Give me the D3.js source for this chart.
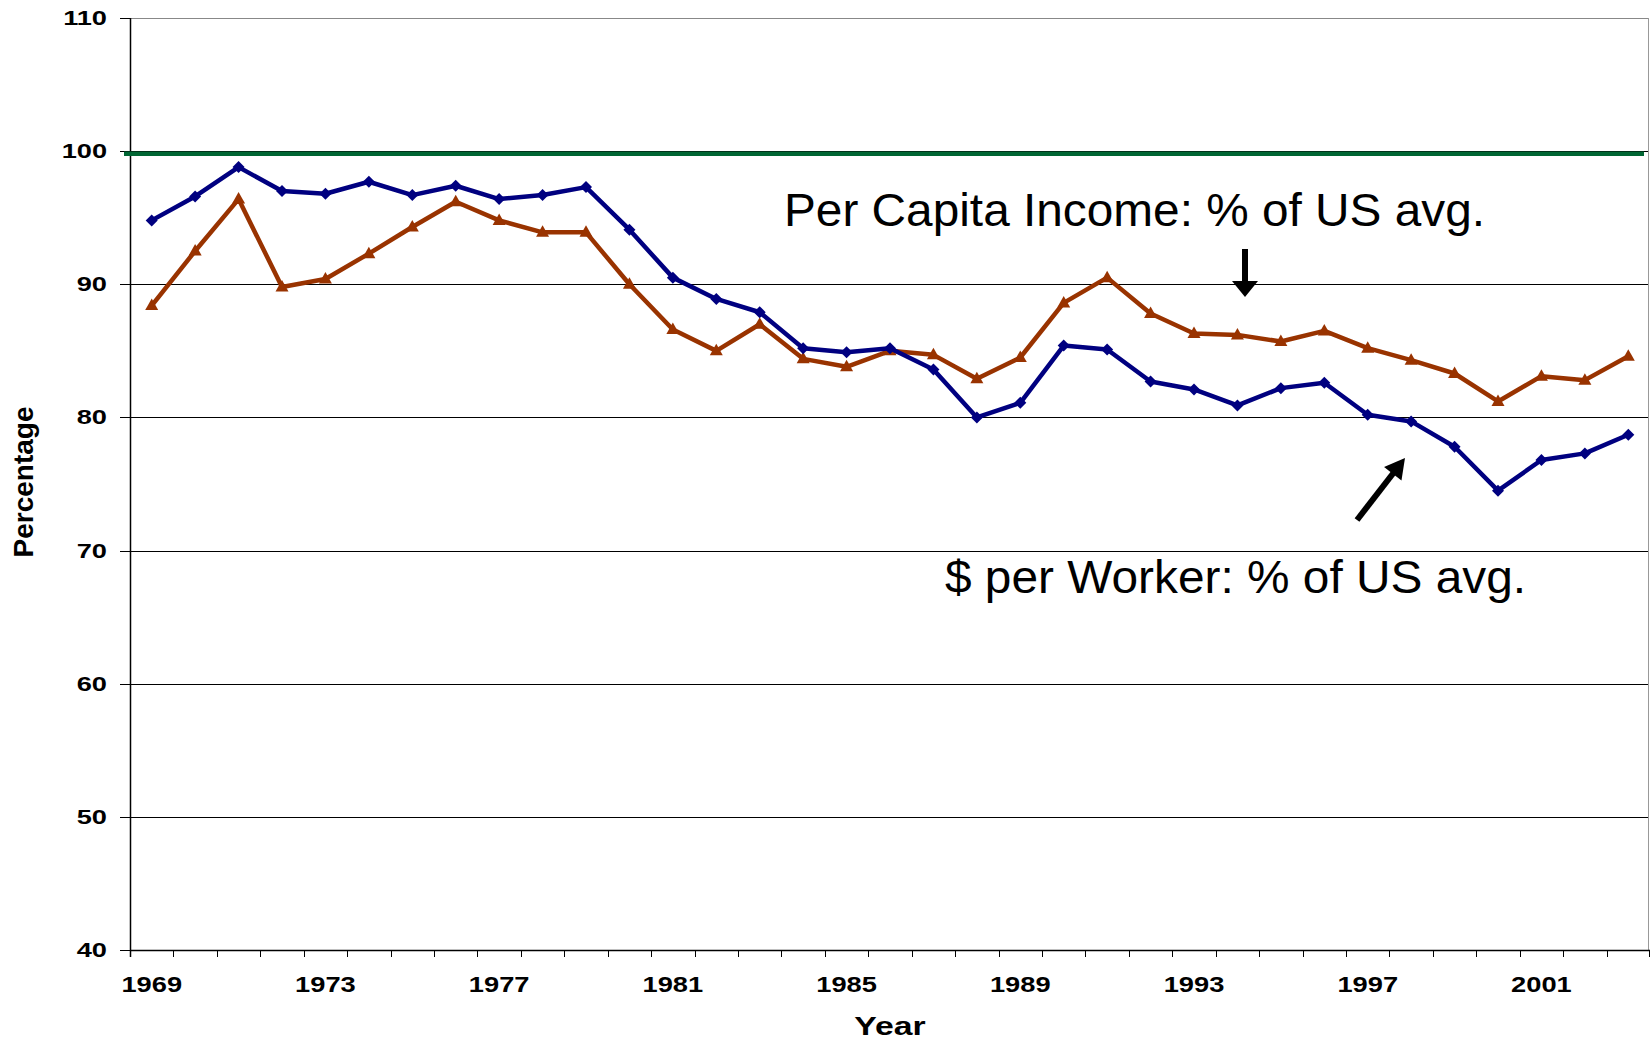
<!DOCTYPE html>
<html>
<head>
<meta charset="utf-8">
<title>Per capita income and $ per worker</title>
<script src="https://cdn.jsdelivr.net/npm/d3@7"></script>
<style>
  body { margin: 0; background: #fff; }
  text { font-family: "Liberation Sans", Arial, sans-serif; fill: #000; }
</style>
</head>
<body>
<div id="chart"></div>
<script>
// data
var years = [1969, 1970, 1971, 1972, 1973, 1974, 1975, 1976, 1977, 1978, 1979,
             1980, 1981, 1982, 1983, 1984, 1985, 1986, 1987, 1988, 1989, 1990,
             1991, 1992, 1993, 1994, 1995, 1996, 1997, 1998, 1999, 2000, 2001,
             2002, 2003];
var perWorker = [94.8, 96.6, 98.8, 97.0, 96.8, 97.7, 96.7, 97.4, 96.4, 96.7, 97.3,
                 94.1, 90.5, 88.9, 87.9, 85.2, 84.9, 85.2, 83.6, 80.0, 81.1, 85.4,
                 85.1, 82.7, 82.1, 80.9, 82.2, 82.6, 80.2, 79.7, 77.8, 74.5, 76.8,
                 77.3, 78.7];
var perCapita = [88.4, 92.5, 96.4, 89.8, 90.4, 92.3, 94.3, 96.2, 94.8, 93.9, 93.9,
                 90.0, 86.6, 85.0, 87.0, 84.4, 83.8, 85.0, 84.7, 82.9, 84.5, 88.6,
                 90.5, 87.8, 86.3, 86.2, 85.7, 86.5, 85.2, 84.3, 83.3, 81.2, 83.1,
                 82.8, 84.6];
var usAvg = 99.8;
var yTicks = [40, 50, 60, 70, 80, 90, 100, 110];
var xLabels = [1969, 1973, 1977, 1981, 1985, 1989, 1993, 1997, 2001];

var W = 1650, H = 1040;
var pLeft = 130, pRight = 1650, pTop = 18, pBottom = 950;

var svg = d3.select('#chart').append('svg')
    .attr('width', W)
    .attr('height', H);

var x = d3.scaleBand().domain(years).range([pLeft, pRight]).padding(0);
var y = d3.scaleLinear().domain([40, 110]).range([pBottom, pTop]);
var bw = x.bandwidth();
var cx = function(yr) { return x(yr) + bw / 2; };

// gridlines
svg.append('g').selectAll('line')
    .data(yTicks)
    .join('line')
    .attr('x1', pLeft).attr('x2', pRight - 1)
    .attr('y1', function(d) { return Math.round(y(d)) + 0.5; })
    .attr('y2', function(d) { return Math.round(y(d)) + 0.5; })
    .attr('stroke', function(d) { return d === 110 ? '#888' : '#000'; })
    .attr('stroke-width', 1);

// right border of plot area
svg.append('line')
    .attr('x1', pRight - 1.5).attr('x2', pRight - 1.5)
    .attr('y1', y(110)).attr('y2', pBottom)
    .attr('stroke', '#999');

// y axis
var yAxis = svg.append('g');
yAxis.append('line')
    .attr('x1', pLeft + 0.5).attr('x2', pLeft + 0.5)
    .attr('y1', y(110)).attr('y2', pBottom + 7)
    .attr('stroke', '#000').attr('stroke-width', 1.5);
yAxis.selectAll('.ytick')
    .data(yTicks)
    .join('line')
    .attr('class', 'ytick')
    .attr('x1', pLeft - 10).attr('x2', pLeft)
    .attr('y1', function(d) { return Math.round(y(d)) + 0.5; })
    .attr('y2', function(d) { return Math.round(y(d)) + 0.5; })
    .attr('stroke', '#000');
yAxis.selectAll('text')
    .data(yTicks)
    .join('text')
    .attr('transform', function(d) { return 'translate(107,' + (y(d) + 7) + ') scale(1.36,1)'; })
    .attr('text-anchor', 'end')
    .attr('font-size', 20)
    .attr('font-weight', 'bold')
    .text(function(d) { return d; });

// x axis
var xAxis = svg.append('g');
xAxis.append('line')
    .attr('x1', pLeft).attr('x2', pRight)
    .attr('y1', pBottom + 0.5).attr('y2', pBottom + 0.5)
    .attr('stroke', '#000').attr('stroke-width', 1.5);
var bounds = years.map(function(d) { return x(d); }).concat([pRight - 1]);
xAxis.selectAll('.xtick')
    .data(bounds)
    .join('line')
    .attr('class', 'xtick')
    .attr('x1', function(d) { return Math.round(d) + 0.5; })
    .attr('x2', function(d) { return Math.round(d) + 0.5; })
    .attr('y1', pBottom).attr('y2', pBottom + 7)
    .attr('stroke', '#000');
xAxis.selectAll('text')
    .data(xLabels)
    .join('text')
    .attr('transform', function(d) { return 'translate(' + cx(d) + ',991.5) scale(1.24,1)'; })
    .attr('text-anchor', 'middle')
    .attr('font-size', 22)
    .attr('font-weight', 'bold')
    .text(function(d) { return d; });

// axis titles
svg.append('text')
    .attr('transform', 'translate(' + ((pLeft + pRight) / 2) + ',1034.5) scale(1.3,1)')
    .attr('text-anchor', 'middle')
    .attr('font-size', 26)
    .attr('font-weight', 'bold')
    .text('Year');
svg.append('text')
    .attr('transform', 'translate(32.5,482) rotate(-90)')
    .attr('text-anchor', 'middle')
    .attr('font-size', 28)
    .attr('font-weight', 'bold')
    .text('Percentage');

// US average line
svg.append('line')
    .attr('x1', 124).attr('x2', 1644)
    .attr('y1', y(usAvg)).attr('y2', y(usAvg))
    .attr('stroke', '#006633')
    .attr('stroke-width', 4.5);

// series
var line = d3.line()
    .x(function(d, i) { return cx(years[i]); })
    .y(function(d) { return y(d); });

svg.append('path')
    .datum(perCapita)
    .attr('d', line)
    .attr('fill', 'none')
    .attr('stroke', '#993300')
    .attr('stroke-width', 4.5)
    .attr('stroke-linejoin', 'round');
svg.append('g').selectAll('path')
    .data(perCapita)
    .join('path')
    .attr('transform', function(d, i) { return 'translate(' + cx(years[i]) + ',' + y(d) + ')'; })
    .attr('d', 'M0,-7L6.5,4.5L-6.5,4.5Z')
    .attr('fill', '#993300');

svg.append('path')
    .datum(perWorker)
    .attr('d', line)
    .attr('fill', 'none')
    .attr('stroke', '#000080')
    .attr('stroke-width', 4.5)
    .attr('stroke-linejoin', 'round');
svg.append('g').selectAll('path')
    .data(perWorker)
    .join('path')
    .attr('transform', function(d, i) { return 'translate(' + cx(years[i]) + ',' + y(d) + ')'; })
    .attr('d', 'M0,-6L6,0L0,6L-6,0Z')
    .attr('fill', '#000080');

// annotations
svg.append('text')
    .attr('x', 784).attr('y', 226)
    .attr('font-size', 46)
    .attr('textLength', 701)
    .attr('lengthAdjust', 'spacingAndGlyphs')
    .text('Per Capita Income: % of US avg.');
svg.append('text')
    .attr('x', 945).attr('y', 593)
    .attr('font-size', 46)
    .attr('textLength', 581)
    .attr('lengthAdjust', 'spacingAndGlyphs')
    .text('$ per Worker: % of US avg.');

// down arrow
svg.append('line')
    .attr('x1', 1245).attr('y1', 249)
    .attr('x2', 1245).attr('y2', 284)
    .attr('stroke', '#000').attr('stroke-width', 6);
svg.append('path')
    .attr('d', 'M1232,281L1258,281L1245,297Z')
    .attr('fill', '#000');

// up arrow, tail to tip
var ax0 = 1357, ay0 = 520, ax1 = 1405, ay1 = 458;
var ang = Math.atan2(ay1 - ay0, ax1 - ax0);
var hl = 20, hw = 11;
var bx = ax1 - hl * Math.cos(ang), by = ay1 - hl * Math.sin(ang);
svg.append('line')
    .attr('x1', ax0).attr('y1', ay0)
    .attr('x2', bx + 2 * Math.cos(ang)).attr('y2', by + 2 * Math.sin(ang))
    .attr('stroke', '#000').attr('stroke-width', 6);
svg.append('path')
    .attr('d', 'M' + ax1 + ',' + ay1 +
        'L' + (bx - hw * Math.sin(ang)) + ',' + (by + hw * Math.cos(ang)) +
        'L' + (bx + hw * Math.sin(ang)) + ',' + (by - hw * Math.cos(ang)) + 'Z')
    .attr('fill', '#000');
</script>
</body>
</html>
